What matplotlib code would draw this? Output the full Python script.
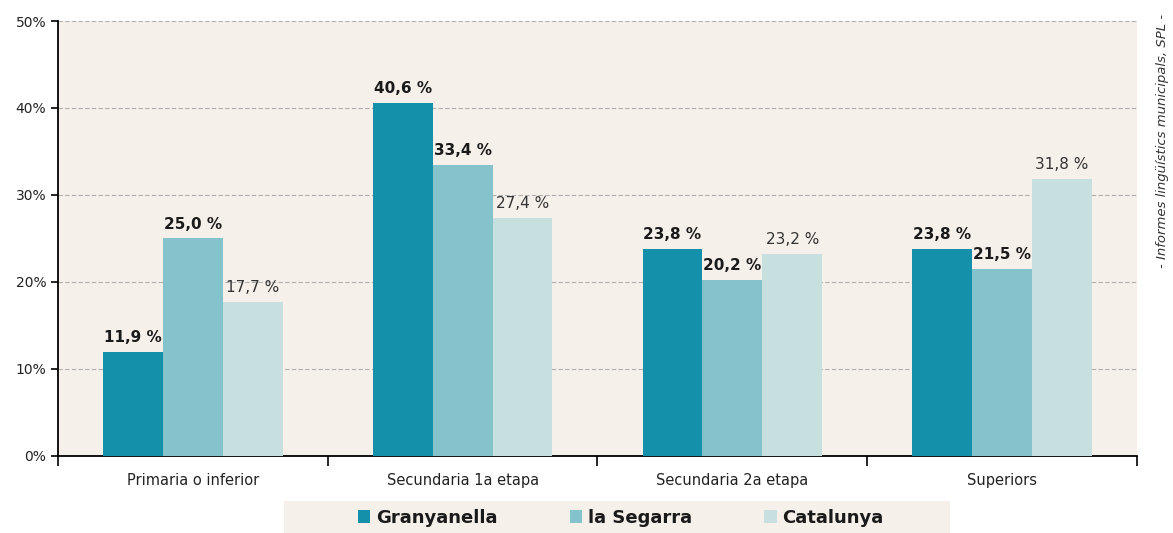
import numpy as np
import matplotlib.pyplot as plt
from matplotlib.patches import Rectangle

# dades
categories = ["Primaria o inferior", "Secundaria 1a etapa", "Secundaria 2a etapa", "Superiors"]
series_names = ["Granyanella", "la Segarra", "Catalunya"]
granyanella = [11.9, 40.6, 23.8, 23.8]
segarra = [25.0, 33.4, 20.2, 21.5]
catalunya = [17.7, 27.4, 23.2, 31.8]
yticks = [0, 10, 20, 30, 40, 50]

colors = ["#1490ab", "#84c2cc", "#c8dfdf"]
bg = "#f5f0ea"

plt.rcParams['font.family'] = ['DejaVu Sans']

fig = plt.figure(figsize=(11.73, 5.33), dpi=100)
ax = fig.add_axes([0.0494, 0.1445, 0.9199, 0.8161])
ax.set_facecolor(bg)

x = np.arange(len(categories))
w = 0.222
data = [granyanella, segarra, catalunya]
for i, vals in enumerate(data):
    pos = x + (i - 1) * w
    ax.bar(pos, vals, w, color=colors[i], label=series_names[i], zorder=3)
    for p, v in zip(pos, vals):
        txt = ("%.1f %%" % v).replace(".", ",")
        ax.text(p, v + 0.8, txt, ha="center", va="bottom", fontsize=11,
                fontweight="normal" if i == 2 else "bold",
                color="#333333" if i == 2 else "#1a1a1a", zorder=4)

ax.set_xlim(-0.5, len(categories) - 0.5)
ax.set_ylim(0, 50)
ax.set_yticks(yticks)
ax.set_yticklabels(["%d%%" % t for t in yticks], fontsize=10, color="#222222")
ax.yaxis.grid(True, linestyle=(0, (4, 2)), color="#b0b0b0", linewidth=0.8, zorder=0)

# ticks de l'eix x entre grups
ax.set_xticks(np.arange(-0.5, len(categories), 1.0))
ax.set_xticklabels([])
ax.set_xticks(x, minor=True)
ax.set_xticklabels(categories, minor=True, fontsize=10.5, color="#222222")
ax.tick_params(axis="x", which="minor", length=0, pad=12)
ax.tick_params(axis="x", which="major", length=7, width=1.2, direction="out")
ax.tick_params(axis="y", length=5, width=1.2, direction="out")

for s in ["top", "right"]:
    ax.spines[s].set_visible(False)
ax.spines["left"].set_linewidth(1.3)
ax.spines["bottom"].set_linewidth(1.3)

# caixa de la llegenda
fig.patches.append(Rectangle((0.242, 0.0), 0.568, 0.06, transform=fig.transFigure,
                             facecolor=bg, edgecolor="none", zorder=0))
leg = fig.legend(loc="center", bbox_to_anchor=(0.529, 0.028), ncol=3,
                 frameon=False, fontsize=13, handlelength=0.7,
                 handleheight=0.7, handletextpad=0.3, columnspacing=4.0)
for t in leg.get_texts():
    t.set_fontweight("bold")
    t.set_color("#1a1a1a")

fig.text(0.991, 0.735, "- Informes lingüístics municipals, SPL -", rotation=90,
         ha="center", va="center", fontsize=9.5, style="italic", color="#333333")

fig.savefig("out.png", dpi=100)
